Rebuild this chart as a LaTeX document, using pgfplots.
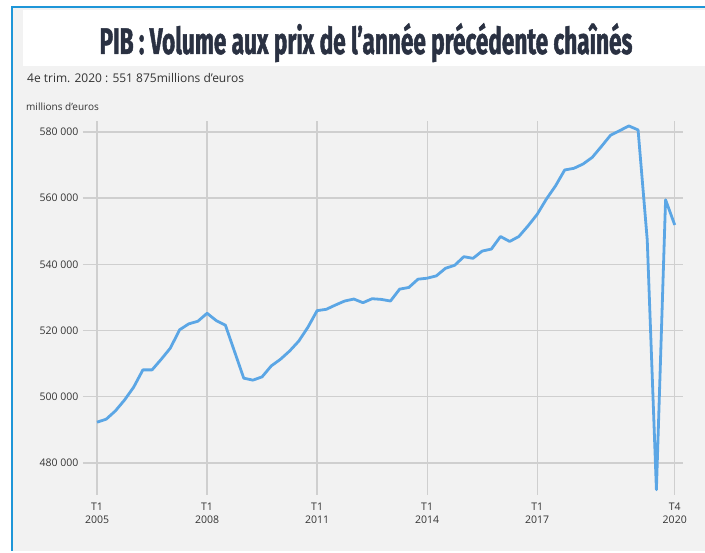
\documentclass[border=0pt]{standalone}
\usepackage{pgfplots}
\pgfplotsset{compat=1.18}
\usepackage{fontspec}
\setmainfont{Open Sans}
\newfontfamily\titlefont[FakeStretch=0.61, FakeBold=1.2]{Fira Sans}
\definecolor{bg}{HTML}{F2F2F2}
\definecolor{framec}{HTML}{1E96D8}
\definecolor{linec}{HTML}{5BA6E5}
\definecolor{gridc}{HTML}{CFCFCF}
\definecolor{titlec}{HTML}{2A3142}
\definecolor{txt}{HTML}{333333}
\pgfplotstableread{
x y
0 492300
1 493200
2 495700
3 499000
4 502900
5 508100
6 508100
7 511300
8 514700
9 520200
10 522000
11 522800
12 525200
13 523000
14 521600
15 513600
16 505600
17 505000
18 506000
19 509300
20 511300
21 513800
22 516800
23 521000
24 526000
25 526400
26 527700
27 528900
28 529500
29 528400
30 529600
31 529400
32 528900
33 532500
34 533000
35 535500
36 535800
37 536500
38 538800
39 539700
40 542300
41 541800
42 544000
43 544600
44 548400
45 546900
46 548400
47 551600
48 555100
49 559700
50 563700
51 568500
52 569000
53 570300
54 572300
55 575600
56 579000
57 580400
58 581800
59 580600
60 547400
61 471900
62 559500
63 551875
}\pib
\begin{document}
\begin{tikzpicture}
\useasboundingbox (0pt,0pt) rectangle (705pt,553pt);
\fill[white] (0pt,0pt) rectangle (705pt,553pt);
\fill[bg] (12pt,2pt) rectangle (705pt,546pt);
\fill[white] (23pt,487pt) rectangle (705pt,543pt);
\draw[framec, line width=1.5pt] (12pt,2pt) -- (12pt,546pt) -- (705pt,546pt);
\node[titlec, anchor=base, inner sep=0pt] at (366pt,499pt) {\titlefont\bfseries\fontsize{37}{37}\selectfont PIB : Volume aux prix de l’année précédente chaînés};
\node[txt, anchor=base west, inner sep=0pt] at (27pt,470pt) {\fontsize{12}{14}\selectfont 4e trim. 2020 : 551 875millions d’euros};
\node[txt, anchor=base west, inner sep=0pt] at (26pt,442pt) {\fontsize{10}{12}\selectfont millions d’euros};
\begin{axis}[
  at={(83pt,58pt)}, anchor=south west,
  scale only axis, width=600pt, height=374pt,
  xmin=-1.53, xmax=63.9, ymin=470300, ymax=583300,
  axis line style={draw=none},
  major tick length=0pt,
  xmajorgrids, ymajorgrids,
  grid style={gridc, line width=1.3pt},
  xtick={0,12,24,36,48,63},
  xticklabels={T1\\2005,T1\\2008,T1\\2011,T1\\2014,T1\\2017,T4\\2020},
  xticklabel style={align=center, font=\fontsize{10.5}{13.5}\selectfont, text=txt, yshift=-4pt},
  ytick={480000,500000,520000,540000,560000,580000},
  yticklabels={480 000,500 000,520 000,540 000,560 000,580 000},
  yticklabel style={font=\fontsize{10.5}{12}\selectfont, text=txt, anchor=east, xshift=-1pt},
  scaled y ticks=false,
]
\addplot[linec, line width=2.8pt, line join=round, mark=none] table[x=x, y=y] {\pib};
\end{axis}
\end{tikzpicture}
\end{document}
